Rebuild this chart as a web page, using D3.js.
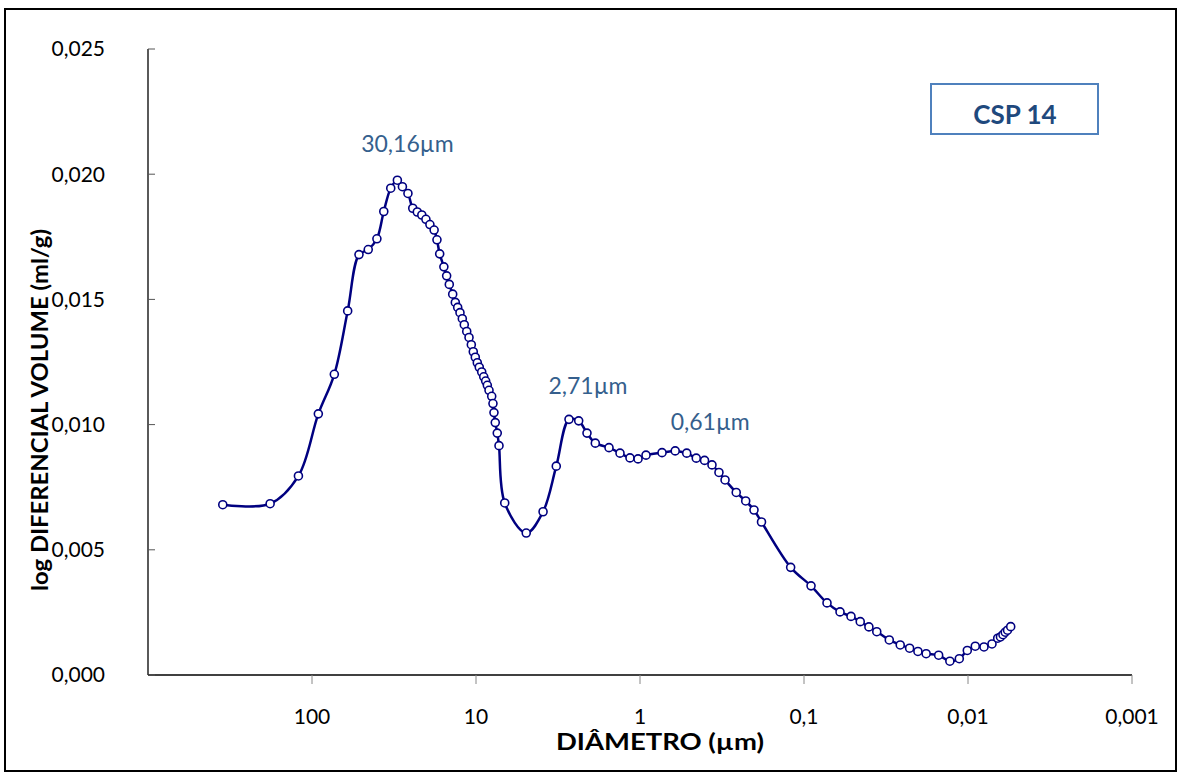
<!DOCTYPE html>
<html>
<head>
<meta charset="utf-8">
<script src="https://cdn.jsdelivr.net/npm/d3@7"></script>
<style>
  body { margin: 0; background: #fff; }
  svg text { font-family: Lato, "Open Sans", sans-serif; }
</style>
</head>
<body>
<div id="chart"></div>
<script>
// diameter (µm) and log differential volume (ml/g)
const diameters = [
    350, 180, 121, 91.5, 73.1, 60.6, 51.7, 45.4, 40.2, 36.5,
    33.1, 30.16, 28.1, 26.0, 24.3, 22.8, 21.4, 20.2, 19.1, 18.0,
    17.3, 16.65, 15.7, 15.1, 14.55, 13.87, 13.37, 12.93, 12.52, 12.12,
    11.79, 11.39, 11.03, 10.68, 10.39, 10.10, 9.82, 9.55, 9.23, 8.97,
    8.73, 8.53, 8.33, 8.02, 7.88, 7.77, 7.63, 7.42, 7.24, 6.68,
    4.94, 3.90, 3.24, 2.71, 2.365, 2.105, 1.873, 1.545, 1.324, 1.151,
    1.028, 0.919, 0.734, 0.61, 0.519, 0.454, 0.404, 0.364, 0.330, 0.303,
    0.259, 0.2267, 0.2018, 0.1816, 0.1206, 0.0906, 0.0724, 0.0603, 0.0517, 0.0454,
    0.0402, 0.0360, 0.0302, 0.0259, 0.0227, 0.0202, 0.0180, 0.0151, 0.0129, 0.0113,
    0.0101, 0.00903, 0.00799, 0.00714, 0.00659, 0.00634, 0.00612, 0.00593, 0.00574, 0.00549
];
const volumes = [
    0.00680, 0.00684, 0.00795, 0.01043, 0.01201, 0.01454, 0.01679, 0.01699, 0.01742, 0.01851,
    0.01944, 0.01976, 0.01950, 0.01923, 0.01864, 0.01849, 0.01837, 0.01820, 0.01799, 0.01777,
    0.01738, 0.01682, 0.01630, 0.01594, 0.01560, 0.01521, 0.01488, 0.01468, 0.01447, 0.01423,
    0.01399, 0.01372, 0.01348, 0.01319, 0.01291, 0.01269, 0.01247, 0.01229, 0.01210, 0.01191,
    0.01174, 0.01157, 0.01137, 0.01113, 0.01084, 0.01048, 0.01008, 0.00966, 0.00916, 0.00687,
    0.00567, 0.00652, 0.00834, 0.01021, 0.01015, 0.00966, 0.00926, 0.00908, 0.00886, 0.00867,
    0.00863, 0.00878, 0.00888, 0.00895, 0.00886, 0.00866, 0.00857, 0.00839, 0.00809, 0.00779,
    0.00729, 0.00695, 0.00659, 0.00611, 0.00430, 0.00356, 0.00288, 0.00252, 0.00234, 0.00213,
    0.00192, 0.00173, 0.00140, 0.00120, 0.00107, 0.00094, 0.00085, 0.00079, 0.00055, 0.00065,
    0.00098, 0.00115, 0.00112, 0.00124, 0.00147, 0.00152, 0.00161, 0.00171, 0.00179, 0.00193
];
const xTicks = [100, 10, 1, 0.1, 0.01, 0.001];
const yTicks = [0, 0.005, 0.010, 0.015, 0.020, 0.025];
const peaks = [
    { d: 30.16, v: 0.0198, label: "30,16µm" },
    { d: 2.71, v: 0.0102, label: "2,71µm" },
    { d: 0.61, v: 0.0090, label: "0,61µm" }
];
const sampleName = "CSP 14";

const W = 1179, H = 773;
const svg = d3.select("#chart").append("svg")
    .attr("width", W)
    .attr("height", H);

// outer frame
svg.append("rect")
    .attr("x", 5).attr("y", 9)
    .attr("width", 1171).attr("height", 762)
    .attr("fill", "none")
    .attr("stroke", "#000")
    .attr("stroke-width", 2);

const x = d3.scaleLog().domain([1000, 0.001]).range([148, 1132]);
const y = d3.scaleLinear().domain([0, 0.025]).range([675, 49]);

const comma = v => String(v).replace(".", ",");

// x axis
const xAxis = svg.append("g").attr("transform", "translate(0,675)");
xAxis.append("line")
    .attr("x1", 148).attr("x2", 1132)
    .attr("stroke", "#000").attr("stroke-width", 1.3);
xAxis.selectAll(".tick")
    .data(xTicks)
    .enter().append("line")
    .attr("x1", d => x(d)).attr("x2", d => x(d))
    .attr("y1", 0).attr("y2", 9)
    .attr("stroke", "#888");
xAxis.selectAll(".lbl")
    .data(xTicks)
    .enter().append("text")
    .attr("x", d => x(d))
    .attr("y", 49)
    .attr("text-anchor", "middle")
    .attr("font-size", 21)
    .text(d => comma(d));

// y axis
const yAxis = svg.append("g").attr("transform", "translate(148,0)");
yAxis.append("line")
    .attr("y1", 49).attr("y2", 675)
    .attr("stroke", "#000").attr("stroke-width", 1.3);
yAxis.selectAll(".tick")
    .data(yTicks)
    .enter().append("line")
    .attr("x1", 0).attr("x2", 7)
    .attr("y1", d => y(d)).attr("y2", d => y(d))
    .attr("stroke", "#555");
yAxis.selectAll(".lbl")
    .data(yTicks)
    .enter().append("text")
    .attr("x", -43)
    .attr("y", d => y(d))
    .attr("dy", "0.35em")
    .attr("text-anchor", "end")
    .attr("font-size", 21)
    .text(d => d3.format(".3f")(d).replace(".", ","));

// axis titles
svg.append("text")
    .attr("x", 660).attr("y", 750)
    .attr("text-anchor", "middle")
    .attr("font-size", 23)
    .attr("font-weight", "bold")
    .attr("textLength", 208)
    .attr("lengthAdjust", "spacingAndGlyphs")
    .text("DIÂMETRO (µm)");

svg.append("text")
    .attr("transform", "translate(48,410) rotate(-90)")
    .attr("text-anchor", "middle")
    .attr("font-size", 22)
    .attr("font-weight", "bold")
    .attr("textLength", 362)
    .attr("lengthAdjust", "spacingAndGlyphs")
    .text("log DIFERENCIAL VOLUME (ml/g)");

// series
const data = diameters.map((d, i) => ({ d: d, v: volumes[i] }));

const line = d3.line()
    .x(d => x(d.d))
    .y(d => y(d.v))
    .curve(d3.curveCatmullRom.alpha(0.5));

svg.append("path")
    .datum(data)
    .attr("d", line)
    .attr("fill", "none")
    .attr("stroke", "#000080")
    .attr("stroke-width", 2.5);

svg.selectAll(".pt")
    .data(data)
    .enter().append("circle")
    .attr("cx", d => x(d.d))
    .attr("cy", d => y(d.v))
    .attr("r", 4)
    .attr("fill", "#fff")
    .attr("stroke", "#000080")
    .attr("stroke-width", 1.6);

// peak labels
const peakDx = [10, 19, 35];
const peakDy = [-27, -26, -20];
svg.selectAll(".peak")
    .data(peaks)
    .enter().append("text")
    .attr("x", (d, i) => x(d.d) + peakDx[i])
    .attr("y", (d, i) => y(d.v) + peakDy[i])
    .attr("text-anchor", "middle")
    .attr("font-size", 23)
    .attr("fill", "#355f8d")
    .text(d => d.label);

// sample box
svg.append("rect")
    .attr("x", 931).attr("y", 84)
    .attr("width", 167).attr("height", 50)
    .attr("fill", "#fff")
    .attr("stroke", "#4f81bd")
    .attr("stroke-width", 2);
svg.append("text")
    .attr("x", 1015).attr("y", 124)
    .attr("text-anchor", "middle")
    .attr("font-size", 26)
    .attr("font-weight", "bold")
    .attr("fill", "#1f497d")
    .text(sampleName);
</script>
</body>
</html>
